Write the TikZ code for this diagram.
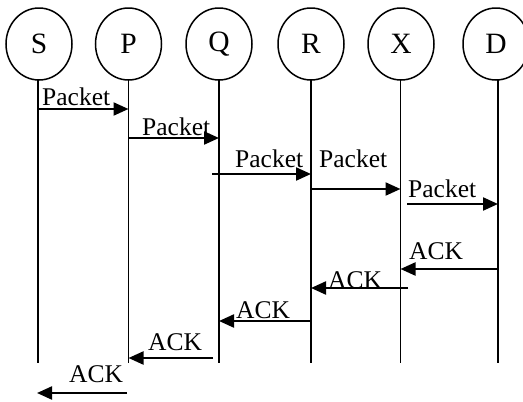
\documentclass[tikz,border=0pt]{standalone}
\usepackage{fontspec}
\setmainfont{Liberation Serif}
\usetikzlibrary{arrows.meta,shapes.geometric}
\newcommand{\bigfont}{\fontsize{25.5}{30}\selectfont}
\newcommand{\entfont}{\fontsize{29.5}{34}\selectfont}
\begin{document}
\begin{tikzpicture}[x=1pt,y=-1pt,
  ent/.style={draw,ellipse,line width=1.5pt,minimum width=66pt,minimum height=72pt,inner sep=0pt,font=\entfont},
  life/.style={line width=1.9pt},
  msg/.style={line width=2.2pt,-{Triangle[length=15pt,width=13pt]}},
  lbl/.style={anchor=base west,inner sep=0pt,font=\bigfont}]
\useasboundingbox (0,0) rectangle (523,402);
% entities
\node[ent] (S) at (39,44) {S};
\node[ent] (P) at (128.5,44) {P};
\node[ent] (Q) at (219,44) {Q};
\node[ent] (R) at (311,44) {R};
\node[ent] (X) at (401,44) {X};
\node[ent] (D) at (496,44) {D};
\foreach \n/\x in {S/38,P/128.5,Q/219,R/311,X/400.5,D/498}{
  \coordinate (\n t) at (\x,80);
  \coordinate (\n b) at (\x,363);
  \draw[life] (\n t) -- (\n b);
}
% endpoint coordinates
\coordinate (a1s) at (38,109);   \coordinate (a1e) at (128.5,109);
\coordinate (a2s) at (128.5,138);\coordinate (a2e) at (219,138);
\coordinate (a3s) at (212,174);  \coordinate (a3e) at (311,174);
\coordinate (a4s) at (311,189);  \coordinate (a4e) at (400.5,189);
\coordinate (a5s) at (407,204);  \coordinate (a5e) at (498,204);
\coordinate (a6s) at (498,269);  \coordinate (a6e) at (400.5,269);
\coordinate (a7s) at (408,288);  \coordinate (a7e) at (311,288);
\coordinate (a8s) at (311,321);  \coordinate (a8e) at (219,321);
\coordinate (a9s) at (213,358);  \coordinate (a9e) at (128.5,358);
\coordinate (a10s) at (127,393); \coordinate (a10e) at (37,393);
\foreach \i in {1,...,10}{\draw[msg] (a\i s) -- (a\i e);}
% labels
\node[lbl] (l1) at (42,105) {Packet};
\node[lbl] (l2) at (142,135) {Packet};
\node[lbl] (l3) at (235,167) {Packet};
\node[lbl] (l4) at (319,167) {Packet};
\node[lbl] (l5) at (408,197) {Packet};
\node[lbl] (l6) at (409,259) {ACK};
\node[lbl] (l7) at (328,288) {ACK};
\node[lbl] (l8) at (236,318) {ACK};
\node[lbl] (l9) at (148,350) {ACK};
\node[lbl] (l10) at (69,382) {ACK};
\end{tikzpicture}
\end{document}
